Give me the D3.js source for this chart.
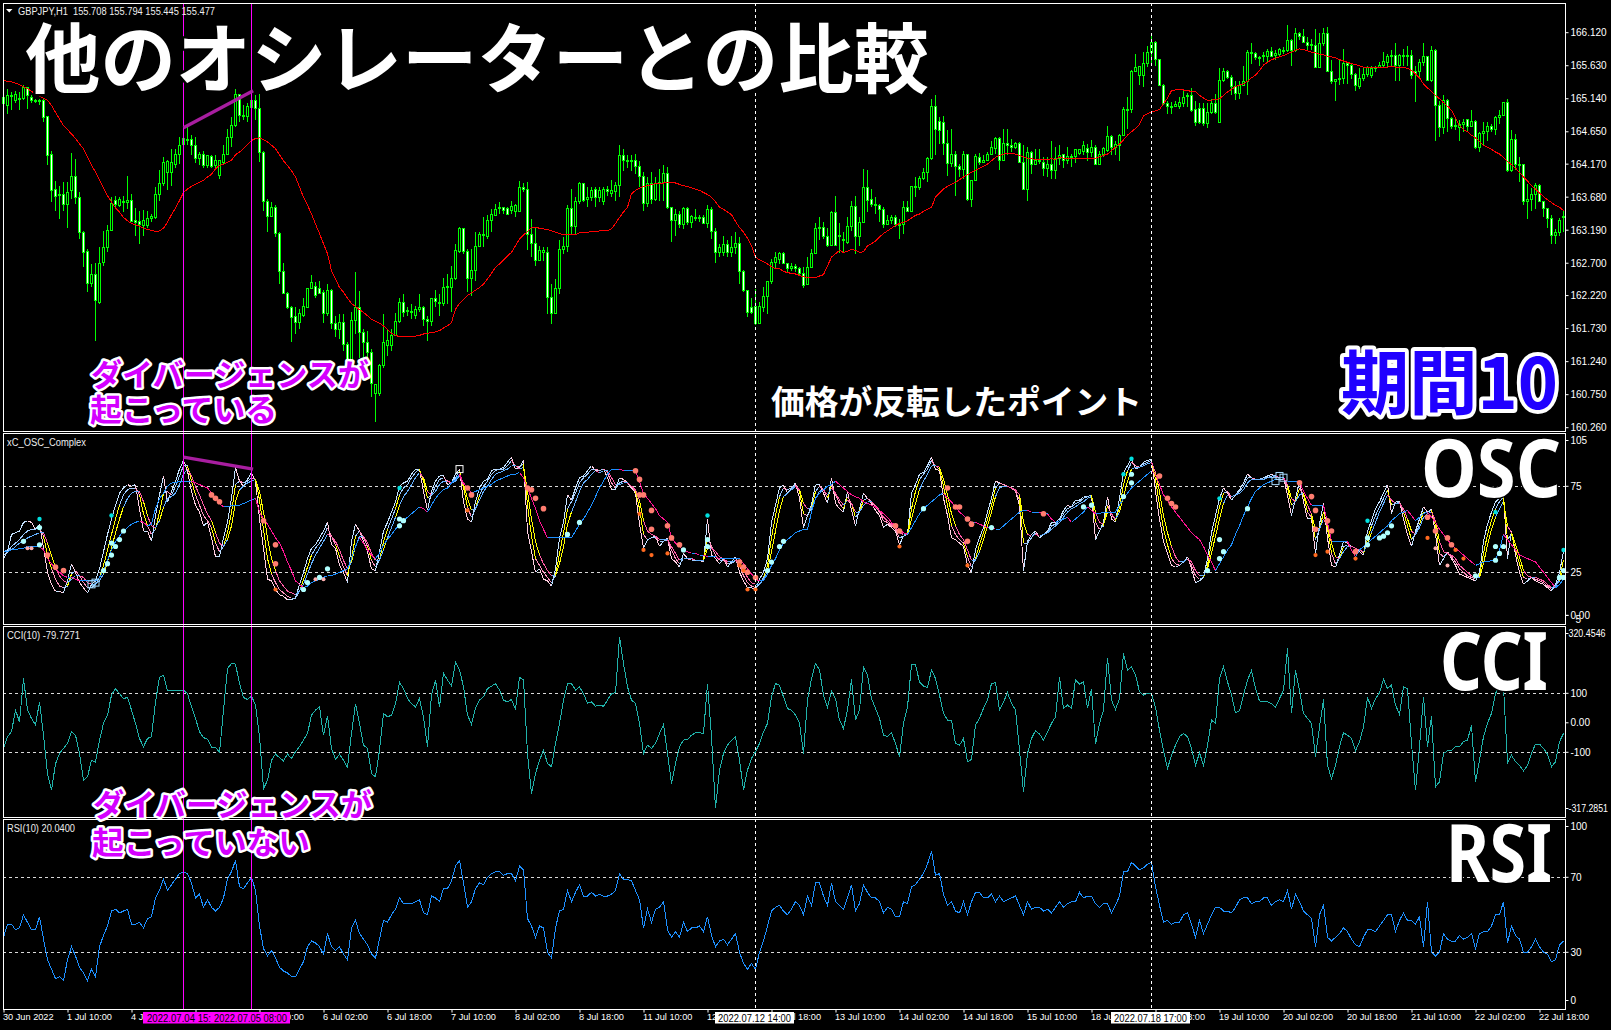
<!DOCTYPE html>
<html><head><meta charset="utf-8"><title>GBPJPY</title>
<script src="https://cdn.jsdelivr.net/npm/d3@7/dist/d3.min.js"></script>
<style>html,body{margin:0;padding:0;background:#000;overflow:hidden}svg{display:block}</style></head>
<body><svg id="c" width="1611" height="1030"></svg>
<script>
const opens=[
165.07,165.04,165.19,165.12,165.14,165.15,165.30,165.16,165.12,165.12,
165.12,164.87,164.31,163.79,163.72,163.72,163.57,163.78,163.98,163.67,
163.15,162.88,162.40,162.54,162.12,162.71,162.93,163.19,163.63,163.56,
163.60,163.60,163.63,163.33,163.32,163.26,163.26,163.37,163.38,163.72,
163.89,164.04,164.04,164.17,164.31,164.46,164.53,164.53,164.45,164.26,
164.31,164.15,164.28,164.15,164.00,164.20,164.31,164.56,164.74,165.20,
164.87,164.87,165.01,165.12,164.99,164.35,163.62,163.39,163.52,163.14,
162.57,162.25,162.05,161.91,161.82,161.92,162.05,162.33,162.35,162.33,
162.27,161.96,162.29,161.81,161.72,161.82,161.50,161.25,161.85,162.05,
161.67,161.53,161.38,160.76,160.76,161.18,161.48,161.48,161.63,161.84,
162.11,162.00,161.99,161.92,162.02,162.05,161.87,161.84,162.17,162.12,
162.10,162.34,162.34,162.48,162.88,163.21,162.88,162.47,162.59,162.95,
163.12,163.09,163.33,163.41,163.51,163.52,163.51,163.48,163.47,163.47,
163.82,163.79,163.13,162.99,162.74,162.86,162.86,162.19,161.96,162.32,
162.90,162.95,163.51,163.24,163.61,163.88,163.64,163.67,163.79,163.67,
163.61,163.79,163.73,163.77,163.85,164.30,164.23,164.21,164.22,164.14,
163.99,163.59,163.88,163.64,163.89,163.90,164.03,163.52,163.33,163.42,
163.27,163.51,163.31,163.38,163.36,163.38,163.29,163.49,163.17,162.86,
162.86,162.98,162.86,162.93,162.99,162.58,162.29,162.05,162.06,161.81,
162.05,162.20,162.43,162.71,162.75,162.84,162.70,162.62,162.65,162.62,
162.55,162.38,162.64,162.85,163.22,163.23,163.09,162.96,163.46,163.11,
163.05,163.01,163.24,163.54,163.09,163.31,163.83,163.64,163.57,163.56,
163.49,163.27,163.33,163.38,163.27,163.27,163.52,163.47,163.84,163.83,
163.95,164.05,164.25,165.02,164.81,164.79,164.47,164.18,164.31,164.13,
164.09,164.31,163.65,163.93,164.27,164.20,164.23,164.32,164.40,164.55,
164.22,164.48,164.45,164.41,164.47,164.20,163.80,164.35,164.16,164.23,
164.20,164.11,164.17,164.08,164.25,164.31,164.23,164.28,164.28,164.33,
164.36,164.40,164.35,164.42,164.16,164.32,164.37,164.58,164.41,164.45,
164.60,164.98,164.98,165.55,165.49,165.49,165.67,165.82,165.98,165.72,
165.34,165.07,165.03,165.03,165.02,165.07,165.19,165.19,164.98,164.99,
164.99,164.78,164.94,165.07,164.79,165.41,165.55,165.46,165.32,165.22,
165.34,165.40,165.82,165.81,165.75,165.76,165.76,165.84,165.78,165.80,
165.86,165.85,166.00,165.86,166.11,166.07,165.98,165.95,165.93,165.61,
165.96,166.11,165.55,165.39,165.43,165.44,165.67,165.63,165.50,165.32,
165.44,165.50,165.49,165.59,165.60,165.63,165.68,165.77,165.78,165.64,
165.78,165.78,165.78,165.54,165.54,165.68,165.76,165.41,165.86,165.04,
164.72,165.12,164.84,164.73,164.72,164.76,164.83,164.73,164.81,164.42,
164.63,164.66,164.73,164.68,164.86,164.89,165.08,164.08,164.53,164.17,
164.16,163.61,163.64,163.72,163.85,163.61,163.51,163.37,163.11,163.15,
163.39];
const highs=[
165.21,165.29,165.24,165.26,165.24,165.34,165.32,165.19,165.14,165.13,
165.13,164.89,164.37,163.92,163.84,163.90,163.90,164.34,164.24,163.75,
163.18,162.91,162.69,162.71,162.94,163.18,163.26,163.68,163.70,163.68,
163.70,163.99,163.73,163.52,163.48,163.49,163.48,163.43,163.83,164.09,
164.27,164.23,164.40,164.40,164.58,164.57,164.73,164.60,164.57,164.35,
164.37,164.31,164.30,164.30,164.23,164.45,164.69,164.87,165.29,165.21,
165.04,165.07,165.16,165.19,165.21,164.37,163.65,163.61,163.56,163.16,
162.71,162.27,162.07,162.05,162.02,162.19,162.33,162.52,162.42,162.44,
162.30,162.39,162.32,161.92,161.95,161.95,161.53,161.97,162.57,162.29,
161.72,161.70,161.43,160.91,161.20,161.95,161.72,161.72,161.96,162.19,
162.24,162.05,162.10,162.07,162.24,162.07,161.92,162.19,162.30,162.24,
162.48,162.54,162.66,162.99,163.24,163.23,162.91,162.91,163.16,163.16,
163.38,163.41,163.51,163.58,163.61,163.54,163.53,163.63,163.58,163.92,
163.89,163.90,163.36,163.23,162.96,162.94,162.94,162.39,162.47,163.04,
163.09,163.57,163.80,163.68,163.90,163.89,163.83,163.83,163.83,163.83,
163.83,163.85,163.93,163.90,164.46,164.40,164.30,164.30,164.32,164.22,
164.05,163.98,164.05,163.98,164.10,164.15,164.13,163.53,163.51,163.48,
163.53,163.53,163.41,163.51,163.41,163.41,163.56,163.54,163.22,162.99,
163.11,163.04,163.11,163.17,163.09,162.60,162.30,162.19,162.32,162.12,
162.34,162.44,162.76,162.86,162.86,162.86,162.71,162.71,162.69,162.64,
162.64,162.79,162.91,163.29,163.39,163.31,163.22,163.48,163.70,163.29,
163.16,163.38,163.63,163.69,163.38,164.10,164.08,163.80,163.68,163.58,
163.53,163.41,163.41,163.41,163.36,163.62,163.63,163.85,163.98,164.00,
164.11,164.27,165.14,165.19,164.87,164.88,164.68,164.69,164.36,164.17,
164.37,164.32,163.94,164.32,164.33,164.30,164.35,164.52,164.58,164.58,
164.69,164.69,164.55,164.50,164.50,164.45,164.42,164.37,164.40,164.40,
164.27,164.28,164.52,164.42,164.45,164.32,164.42,164.32,164.40,164.40,
164.52,164.47,164.53,164.45,164.37,164.42,164.73,164.60,164.52,164.62,
165.02,165.16,165.57,165.80,165.63,165.83,165.92,166.08,165.99,165.73,
165.36,165.10,165.09,165.11,165.17,165.26,165.22,165.30,165.11,165.08,
165.08,165.07,165.14,165.21,165.59,165.59,165.56,165.49,165.41,165.41,
165.63,165.87,165.97,165.83,165.78,165.83,165.88,165.91,165.86,165.90,
165.91,166.24,166.02,166.19,166.13,166.18,166.06,166.03,166.18,166.11,
166.19,166.20,165.72,165.44,165.72,165.88,165.68,165.66,165.52,165.59,
165.59,165.63,165.62,165.63,165.68,165.83,165.80,165.86,165.97,165.81,
165.88,165.93,165.86,165.63,165.73,165.96,165.78,165.93,165.88,165.11,
165.20,165.14,164.87,164.84,164.82,164.84,164.84,164.98,164.82,164.64,
164.79,164.79,164.77,164.89,164.97,165.09,165.14,164.67,164.61,164.27,
164.17,163.87,163.82,163.89,163.87,163.63,163.52,163.41,163.21,163.37,
163.48];
const lows=[
164.82,164.92,164.97,165.07,164.97,165.12,164.99,165.08,165.07,165.04,
164.79,164.15,163.61,163.48,163.36,163.47,163.23,163.65,163.58,163.06,
162.64,162.27,162.34,161.54,162.10,162.66,162.86,163.18,163.51,163.53,
163.46,163.51,163.31,163.11,162.99,163.11,163.23,163.31,163.36,163.63,
163.85,163.78,163.85,164.12,164.17,164.42,164.45,164.30,164.18,164.15,
164.12,164.12,164.12,164.12,163.95,164.17,164.30,164.42,164.72,164.79,
164.82,164.79,164.99,164.82,164.20,163.48,163.17,163.38,163.09,162.39,
162.24,162.02,161.53,161.65,161.72,161.90,162.05,162.32,162.19,162.24,
161.82,161.92,161.72,161.60,161.58,161.40,161.23,161.20,161.65,161.30,
161.28,161.15,160.71,160.35,160.73,161.15,161.33,161.40,161.63,161.82,
161.90,161.92,161.87,161.87,161.97,161.77,161.55,161.77,162.05,161.92,
162.07,162.10,161.97,162.45,162.85,162.84,162.27,162.22,162.44,162.96,
162.94,163.06,163.16,163.41,163.43,163.43,163.43,163.43,163.38,163.46,
163.75,162.89,162.79,162.66,162.74,162.74,161.95,161.80,161.95,162.24,
162.83,162.86,163.14,163.14,163.58,163.61,163.53,163.63,163.53,163.61,
163.56,163.70,163.68,163.63,163.68,164.07,164.12,164.07,164.03,163.83,
163.47,163.53,163.58,163.63,163.63,163.63,163.51,163.01,163.11,163.23,
163.21,163.27,163.23,163.33,163.31,163.28,163.23,163.06,162.70,162.79,
162.81,162.79,162.79,162.84,162.39,162.27,161.90,161.95,161.79,161.80,
161.97,161.95,162.39,162.62,162.69,162.69,162.57,162.59,162.57,162.52,
162.33,162.37,162.64,162.84,163.04,163.06,162.94,162.96,162.96,162.85,
162.86,162.99,163.18,162.84,162.96,163.31,163.46,163.53,163.43,163.31,
163.23,163.26,163.28,163.24,163.06,163.13,163.46,163.47,163.68,163.78,
163.93,163.90,164.23,164.30,164.47,164.30,164.00,164.13,163.70,163.98,
163.95,163.63,163.54,163.92,164.15,164.22,164.22,164.30,164.32,164.08,
164.21,164.30,164.35,164.40,164.19,163.78,163.63,164.03,164.15,164.17,
164.00,163.98,163.95,163.95,164.15,164.12,164.17,164.13,164.18,164.30,
164.30,164.21,164.27,164.15,164.15,164.27,164.35,164.30,164.30,164.22,
164.69,164.69,164.93,165.54,165.34,165.31,165.61,165.66,165.62,165.34,
165.04,164.91,164.92,165.02,164.99,165.02,165.02,164.94,164.74,164.77,
164.73,164.70,164.92,164.92,164.79,165.39,165.44,165.19,165.12,165.14,
165.39,165.19,165.66,165.71,165.63,165.68,165.68,165.76,165.71,165.78,
165.81,165.83,165.63,165.83,166.01,165.96,165.86,165.86,165.59,165.59,
165.93,165.54,165.36,165.11,165.34,165.36,165.36,165.44,165.26,165.29,
165.41,165.46,165.45,165.54,165.59,165.61,165.61,165.61,165.41,165.41,
165.63,165.63,165.44,165.09,165.44,165.63,165.41,165.39,164.52,164.57,
164.62,164.64,164.69,164.67,164.52,164.64,164.64,164.72,164.40,164.35,
164.45,164.52,164.64,164.60,164.77,164.89,164.05,164.05,164.08,163.90,
163.56,163.36,163.48,163.51,163.61,163.38,163.23,162.99,162.99,163.11,
163.16];
const closes=[
165.16,165.19,165.19,165.20,165.14,165.30,165.19,165.12,165.12,165.12,
164.86,164.30,163.78,163.69,163.70,163.57,163.75,163.98,163.67,163.15,
162.86,162.40,162.54,162.15,162.70,162.93,163.19,163.58,163.57,163.64,
163.61,163.63,163.32,163.31,163.27,163.33,163.37,163.39,163.72,163.89,
164.20,164.21,164.20,164.32,164.45,164.55,164.53,164.45,164.25,164.32,
164.15,164.30,164.14,164.22,164.22,164.31,164.57,164.74,165.20,164.89,
164.89,165.03,165.12,164.99,164.35,163.62,163.39,163.52,163.14,162.57,
162.25,162.05,161.90,161.82,161.95,162.06,162.32,162.42,162.22,162.25,
161.96,162.29,161.81,161.72,161.82,161.50,161.25,161.85,162.05,161.67,
161.53,161.38,160.91,160.90,161.18,161.53,161.55,161.63,161.84,162.11,
161.97,161.99,161.97,162.02,162.05,161.87,161.84,162.17,162.13,162.10,
162.34,162.35,162.48,162.89,163.21,162.88,162.47,162.59,162.95,163.12,
163.11,163.33,163.43,163.49,163.52,163.48,163.43,163.54,163.56,163.82,
163.79,163.13,162.99,162.74,162.89,162.89,162.19,161.96,162.32,162.90,
162.95,163.51,163.24,163.61,163.89,163.63,163.68,163.78,163.67,163.78,
163.79,163.77,163.78,163.85,164.30,164.22,164.22,164.22,164.14,163.99,
163.59,163.88,163.64,163.89,163.90,164.03,163.52,163.33,163.42,163.27,
163.51,163.31,163.39,163.36,163.38,163.29,163.49,163.17,162.86,162.93,
162.98,162.86,162.93,162.99,162.58,162.29,161.97,161.97,161.81,162.06,
162.20,162.43,162.71,162.79,162.84,162.70,162.62,162.65,162.62,162.55,
162.37,162.64,162.85,163.22,163.23,163.09,162.96,163.46,162.96,163.09,
163.03,163.24,163.54,163.09,163.31,163.83,163.63,163.57,163.56,163.49,
163.28,163.33,163.38,163.27,163.27,163.52,163.47,163.84,163.83,163.95,
164.05,164.25,165.02,164.68,164.67,164.47,164.18,164.31,164.13,164.09,
164.31,163.65,163.93,164.28,164.20,164.23,164.32,164.42,164.55,164.22,
164.48,164.45,164.41,164.47,164.20,163.80,164.35,164.17,164.23,164.22,
164.11,164.17,164.08,164.25,164.30,164.23,164.28,164.27,164.38,164.38,
164.45,164.35,164.42,164.16,164.32,164.40,164.58,164.41,164.46,164.60,
164.98,164.98,165.55,165.60,165.62,165.67,165.82,165.97,165.72,165.34,
165.07,165.03,165.01,165.05,165.09,165.16,165.19,164.97,164.79,164.79,
164.78,164.94,165.07,164.94,165.41,165.55,165.46,165.32,165.22,165.34,
165.40,165.82,165.82,165.75,165.75,165.78,165.84,165.76,165.81,165.87,
165.86,166.00,165.86,166.11,166.07,165.98,165.93,165.93,165.61,165.96,
166.11,165.55,165.39,165.43,165.44,165.67,165.63,165.50,165.34,165.44,
165.50,165.60,165.59,165.60,165.63,165.69,165.77,165.78,165.64,165.78,
165.78,165.78,165.49,165.51,165.68,165.76,165.41,165.86,165.04,164.72,
165.12,164.84,164.73,164.74,164.76,164.79,164.73,164.81,164.42,164.63,
164.66,164.73,164.68,164.86,164.89,165.08,164.08,164.53,164.17,164.16,
163.61,163.64,163.72,163.85,163.61,163.51,163.37,163.11,163.15,163.33,
163.39];
const maLine=[
165.41,165.40,165.39,165.37,165.35,165.32,165.29,165.25,165.21,165.18,
165.15,165.12,165.04,164.94,164.84,164.74,164.68,164.62,164.55,164.47,
164.40,164.28,164.16,164.05,163.93,163.82,163.70,163.61,163.52,163.46,
163.38,163.33,163.29,163.27,163.25,163.22,163.20,163.19,163.17,163.18,
163.22,163.31,163.42,163.52,163.63,163.75,163.80,163.84,163.87,163.90,
163.93,163.98,164.02,164.10,164.15,164.17,164.20,164.23,164.31,164.35,
164.40,164.46,164.52,164.55,164.56,164.53,164.50,164.45,164.40,164.31,
164.22,164.15,164.07,163.98,163.83,163.68,163.56,163.43,163.28,163.14,
162.99,162.84,162.59,162.47,162.34,162.27,162.18,162.10,162.06,162.01,
161.97,161.92,161.87,161.84,161.81,161.77,161.72,161.66,161.63,161.61,
161.61,161.61,161.61,161.62,161.63,161.65,161.66,161.67,161.68,161.70,
161.74,161.77,161.82,162.02,162.10,162.16,162.22,162.26,162.30,162.34,
162.39,162.47,162.55,162.64,162.69,162.75,162.81,162.86,162.96,163.06,
163.12,163.17,163.23,163.23,163.22,163.21,163.20,163.18,163.16,163.14,
163.12,163.12,163.12,163.12,163.15,163.16,163.16,163.17,163.17,163.18,
163.18,163.18,163.21,163.29,163.38,163.46,163.53,163.73,163.78,163.81,
163.84,163.85,163.87,163.88,163.89,163.89,163.90,163.90,163.89,163.87,
163.85,163.84,163.82,163.80,163.78,163.75,163.72,163.68,163.61,163.53,
163.50,163.46,163.42,163.32,163.23,163.16,163.07,162.96,162.79,162.75,
162.72,162.69,162.65,162.62,162.62,162.58,162.56,162.55,162.54,162.52,
162.50,162.49,162.49,162.49,162.51,162.53,162.66,162.79,162.84,162.89,
162.86,162.88,162.91,162.89,162.86,162.87,162.96,162.99,163.03,163.09,
163.14,163.18,163.22,163.26,163.29,163.31,163.33,163.37,163.41,163.43,
163.47,163.50,163.53,163.68,163.74,163.80,163.84,163.87,163.90,163.94,
163.98,164.01,164.05,164.08,164.11,164.14,164.17,164.22,164.27,164.30,
164.32,164.33,164.33,164.32,164.30,164.28,164.26,164.25,164.24,164.24,
164.24,164.24,164.25,164.24,164.27,164.26,164.26,164.25,164.25,164.25,
164.25,164.25,164.25,164.26,164.28,164.30,164.32,164.37,164.42,164.47,
164.53,164.60,164.65,164.70,164.76,164.89,164.92,164.94,164.96,164.98,
165.07,165.15,165.26,165.27,165.28,165.27,165.26,165.25,165.25,165.19,
165.15,165.12,165.12,165.13,165.14,165.19,165.24,165.28,165.32,165.34,
165.36,165.40,165.45,165.49,165.56,165.64,165.68,165.72,165.74,165.76,
165.78,165.81,165.83,165.86,165.88,165.87,165.85,165.83,165.82,165.80,
165.79,165.77,165.76,165.75,165.72,165.70,165.68,165.66,165.65,165.63,
165.61,165.61,165.60,165.60,165.60,165.61,165.61,165.62,165.61,165.61,
165.61,165.59,165.56,165.51,165.45,165.36,165.30,165.25,165.19,165.14,
165.08,165.03,164.97,164.85,164.74,164.68,164.65,164.60,164.56,164.51,
164.45,164.42,164.39,164.35,164.32,164.27,164.21,164.16,164.11,164.05,
163.98,163.92,163.85,163.80,163.74,163.69,163.64,163.60,163.56,163.53,
163.48];
const oscF=[
33,37,47,48,49,54,55,54,50,53,39,25,18,14,14,13,20,30,25,19,
16,13,18,20,27,37,47,56,64,71,74,76,75,76,62,49,49,43,58,70,
81,66,72,78,85,90,84,72,64,60,52,54,45,34,34,45,54,68,86,78,
75,79,83,78,56,39,21,20,15,12,11,9,9,10,18,25,33,39,41,45,
49,54,41,39,29,25,19,43,53,49,43,37,27,26,37,49,54,60,66,75,
77,78,82,85,85,72,61,72,78,81,81,76,77,82,85,66,56,54,66,74,
78,79,84,85,85,86,89,92,85,86,90,49,37,25,27,21,20,17,27,45,
54,70,67,74,80,81,84,87,84,84,85,80,73,73,80,79,77,74,71,53,
39,44,45,46,40,43,45,33,31,28,36,33,32,32,32,31,56,35,33,30,
33,28,31,34,25,20,16,16,15,21,25,33,54,64,74,76,71,74,77,68,
51,58,64,76,76,71,65,80,65,62,60,72,61,52,62,71,68,65,61,58,
51,53,51,49,41,46,47,71,76,82,83,87,92,85,84,68,58,45,44,42,
40,29,25,38,45,51,60,68,78,77,76,75,74,72,64,26,43,47,49,45,
47,49,54,54,56,61,64,63,67,67,69,69,70,44,49,54,69,56,54,68,
83,87,91,85,86,89,90,91,72,56,43,36,29,28,29,31,34,27,19,20,
22,33,48,58,68,74,71,67,70,73,77,82,80,79,79,80,81,82,81,80,
80,70,58,68,78,66,56,56,36,53,65,45,29,28,35,43,42,40,39,37,
35,49,55,62,66,71,76,59,66,66,56,47,40,49,56,63,60,62,47,29,
33,37,33,29,24,23,22,21,20,25,43,53,60,66,68,70,33,49,35,25,
18,20,22,20,19,18,16,14,18,25,37];
const oscM1=[
35,37,40,42,44,47,49,50,50,51,46,35,27,21,17,16,17,24,26,23,
19,16,16,18,22,29,38,47,56,64,70,73,74,74,70,59,52,47,50,60,
71,72,70,75,81,87,87,78,70,64,58,55,51,42,37,40,48,60,76,78,
77,78,80,79,67,50,33,24,19,15,13,11,10,10,14,21,28,35,39,42,
46,51,46,41,34,28,23,33,46,49,45,40,32,28,32,43,50,56,62,70,
74,76,80,83,85,78,68,70,75,79,80,78,77,80,84,74,63,57,62,70,
75,78,82,84,85,85,87,90,87,86,88,64,46,33,29,25,22,19,23,36,
48,62,66,71,77,80,82,85,85,84,85,83,77,74,77,78,77,75,72,62,
47,44,45,45,43,43,44,38,33,30,33,33,32,32,32,32,45,40,35,32,
32,30,30,32,29,23,19,17,16,18,22,29,45,58,69,74,73,74,76,72,
59,58,62,72,75,73,68,76,70,65,62,69,65,57,60,67,68,66,63,60,
55,54,52,50,45,46,47,62,72,79,82,85,90,87,85,75,64,52,47,44,
42,34,28,33,41,48,56,64,74,77,76,75,74,72,67,42,42,45,48,46,
47,48,52,53,55,59,62,63,65,66,68,69,70,54,50,52,64,59,55,63,
76,84,89,87,86,88,89,90,79,64,50,41,33,30,29,31,33,29,23,21,
22,29,42,52,63,71,72,69,70,72,75,80,80,79,79,80,80,81,81,80,
80,74,64,66,74,70,60,57,44,50,60,50,36,30,33,40,41,40,39,38,
36,44,52,58,63,68,73,64,65,66,60,52,44,47,53,60,60,61,52,36,
34,36,34,31,27,25,23,22,21,23,36,47,55,62,66,69,44,47,38,30,
22,21,22,21,20,19,17,15,17,22,32];
const oscM2=[
37,38,38,40,42,43,45,46,47,48,48,42,35,28,23,20,19,21,23,23,
22,19,18,18,20,24,31,39,48,56,63,68,71,72,72,66,58,52,51,55,
63,68,69,71,76,82,85,81,75,70,64,59,55,48,42,40,44,52,66,73,
75,77,78,79,72,60,45,33,26,20,17,14,13,12,14,18,24,30,35,39,
43,47,46,43,38,32,27,31,40,46,46,42,36,32,32,38,45,51,57,64,
69,72,76,80,83,80,72,70,72,76,78,78,77,78,81,76,68,61,62,67,
72,75,79,82,83,84,85,87,87,85,86,72,56,43,35,30,26,23,23,30,
40,53,60,66,72,77,79,82,84,83,84,84,80,76,76,77,77,75,73,67,
55,49,47,46,44,44,44,40,36,32,33,33,33,32,32,32,39,39,37,34,
33,31,31,32,30,26,22,19,18,18,21,26,37,49,61,69,71,73,75,73,
65,62,62,68,72,73,70,74,71,67,64,67,65,60,60,64,66,66,64,61,
57,55,53,51,48,47,47,56,65,73,78,82,87,87,86,79,70,59,52,47,
44,38,32,32,37,44,52,60,69,74,75,75,74,73,70,54,47,46,47,46,
47,48,50,52,54,57,60,62,63,65,66,68,69,60,54,53,60,59,56,60,
69,78,85,86,86,87,88,89,83,72,58,48,40,34,31,31,33,31,26,23,
23,27,36,46,56,65,70,69,70,71,73,77,79,79,79,79,80,80,81,80,
80,76,68,66,70,71,64,59,50,50,56,52,42,34,33,37,40,40,39,38,
37,41,48,54,60,65,70,67,65,65,62,56,49,47,51,57,59,60,55,43,
37,36,35,33,29,27,25,23,22,22,30,41,50,57,62,66,52,48,41,34,
26,23,22,22,21,20,18,16,17,20,27];
const oscS=[
37,37,38,38,39,39,40,40,40,40,38,33,30,27,25,23,22,22,21,20,
20,20,20,20,22,26,32,38,43,46,49,51,53,54,55,54,52,53,62,68,
71,75,77,77,78,78,78,78,77,76,75,74,71,68,65,63,63,64,64,64,
65,66,67,68,60,56,53,49,45,42,37,31,26,20,18,16,17,19,20,21,
22,23,23,24,25,26,27,33,40,45,42,38,35,33,36,41,44,47,50,53,
55,57,59,61,63,62,60,64,68,71,73,74,77,79,82,77,74,71,72,73,
74,75,76,78,79,80,81,82,82,83,80,74,68,62,55,50,45,45,45,45,
45,45,45,49,53,56,60,64,69,74,78,82,85,85,85,84,84,84,84,78,
71,68,65,62,58,56,54,45,42,40,38,37,36,36,35,35,34,34,34,33,
33,33,33,33,33,30,27,24,21,20,20,24,29,33,38,42,44,46,48,49,
50,50,60,68,71,73,75,76,78,76,74,72,70,69,68,66,65,64,63,61,
59,57,54,52,50,48,47,51,55,59,62,64,66,68,70,71,68,66,63,60,
58,56,54,54,53,52,51,51,50,50,52,54,56,58,60,61,61,60,60,60,
59,59,56,54,55,56,57,54,56,58,60,63,61,59,59,60,60,60,60,64,
68,71,74,76,78,80,82,84,82,76,70,67,63,60,57,54,51,48,46,44,
40,35,31,26,30,34,38,41,47,52,58,63,68,72,74,76,77,78,79,79,
79,78,78,78,78,72,68,64,64,64,64,54,43,43,43,43,43,38,34,38,
40,42,44,46,48,50,52,55,57,59,60,61,58,55,57,59,60,57,54,50,
47,44,41,39,37,35,33,31,29,30,31,31,32,32,38,47,44,41,38,35,
34,33,32,31,28,25,22,19,16,18,21];
const dotsBar=[9,27,99,176,280,282,304,341,373,390, 5,9,9,27,28,30,29,27,26,25,75,76,79,81,99,100,99,141,144,170,176,176,191,192,194,195,230,247,270,272,280,282,282,301,304,304,305,311,341,341,344,345,346,347,368,373,374,375,373,389,390,390,
11,13,15,52,53,54,68,65,68,116,117,131,132,133,135,158,159,160,159,162,162,166,167,169,184,185,186,188,223,224,236,238,239,241,242,241,260,289,291,292,293,324,327,328,331,328,332,338,356,358,361,362,363,365,
68,116,160,162,166,186,188,224,241,159,184,185,328,331,338,356,358,361, 6,7,78,80,283,306];
const dotsVal=[56,58,74,58,82,91,68,55,60,38, 43,51,41,42,40,49,44,35,30,26,15,19,22,27,56,55,52,47,54,38,44,40,26,31,40,43,62,51,63,64,69,77,82,26,44,33,37,62,45,41,45,46,48,52,23,32,36,40,40,22,22,26,
35,28,26,70,68,66,41,55,30,74,70,74,73,68,62,84,79,70,70,61,50,52,45,41,31,28,25,22,52,49,74,63,63,56,53,43,59,81,68,65,63,77,69,61,55,50,49,37,57,49,45,41,38,33,
15,61,38,35,36,15,15,40,29,59,29,26,35,37,33,45,39,29, 39,39,21,21,79,40];
const dotsKind=["c","c","c","c","c","c","c","c","c","c"].concat(Array(52).fill("p"),Array(52).fill("s"),Array(18).fill("o"),Array(6).fill("k"));
const squaresBar=[22,23,114,318,319,320];
const squaresVal=[18,19,85,78,81,80];
const cciLine=[
-87,-47,-30,43,3,150,43,15,-8,71,-42,-172,-228,-139,-104,-87,-70,-31,-42,-104,
-195,-183,-127,-133,-59,-2,26,94,116,99,82,86,43,-2,-53,-81,-53,-47,71,155,
161,108,108,108,111,111,99,54,15,-31,-50,-56,-83,-83,-101,43,184,201,199,133,
86,79,90,60,-47,-223,-195,-127,-106,-118,-129,-106,-121,-98,-81,-59,-36,26,43,54,
-42,23,-87,-124,-106,-127,-151,-36,65,-2,-76,-87,-172,-183,-93,32,20,26,65,137,
116,82,65,54,82,20,-81,94,145,54,168,145,125,205,179,122,26,-5,49,77,
88,116,124,133,111,77,71,79,45,154,145,-104,-241,-172,-127,-93,-138,-149,-70,-2,
77,133,133,111,122,99,66,71,56,60,56,77,99,102,291,201,122,77,66,-2,
-104,-76,-87,-70,-36,-6,-104,-206,-138,-81,-59,-56,-42,-34,-34,-36,133,-47,-290,-160,
-104,-76,-59,-47,-127,-228,-160,-121,-98,-70,-31,-2,88,133,127,88,48,43,26,-2,
-104,77,150,201,179,94,52,109,82,9,-19,43,147,9,43,190,161,82,48,15,
-42,-47,-34,-70,-116,-2,54,196,196,139,124,120,179,150,94,32,9,9,-70,-76,
-53,-132,-124,-8,15,49,77,133,136,43,71,102,66,43,-93,-234,-104,-53,-27,-38,
-59,-31,-2,20,154,49,60,49,145,131,139,49,116,-73,-2,43,221,77,45,82,
235,179,190,162,105,94,99,99,52,-25,-93,-155,-110,-76,-47,-36,-47,-87,-144,-102,
-144,-76,9,-2,150,190,139,94,34,41,94,145,177,116,74,71,71,65,52,82,
110,252,32,179,110,32,15,-2,-115,-14,79,-144,-189,-144,-81,-34,-42,-53,-95,-64,
-14,86,49,82,102,147,116,128,60,29,122,116,-70,-229,-81,88,-81,23,-217,-200,
-104,-95,-93,-81,-81,-64,-59,-8,-200,-127,-47,-2,32,99,127,122,-135,-110,-132,-144,
-163,-144,-104,-72,-72,-87,-106,-149,-132,-64,-36];
const rsiLine=[
38,45,45,42,43,50,46,42,42,49,37,26,21,16,17,15,26,33,28,22,
19,15,21,17,33,39,44,52,53,51,52,53,45,45,46,43,48,49,59,63,
69,63,66,69,72,73,72,67,59,61,54,58,54,52,54,59,69,73,79,65,
64,67,70,63,44,32,28,31,27,22,20,19,17,17,21,25,33,36,35,33,
29,40,33,31,33,29,26,43,47,40,37,34,29,27,37,47,46,50,53,59,
56,56,56,57,58,51,50,60,59,57,64,64,68,76,79,67,54,57,64,67,
66,70,72,73,73,71,72,72,68,76,74,48,44,38,44,43,30,27,43,52,
53,63,57,62,66,60,60,62,60,61,60,60,61,63,72,69,69,68,63,58,
43,53,46,53,54,57,42,38,41,38,46,41,43,43,44,41,49,39,33,36,
37,34,37,40,30,24,21,24,21,30,36,44,52,54,55,52,50,53,57,55,
50,60,55,67,67,60,55,67,57,55,53,59,66,52,56,66,62,59,59,57,
51,54,53,49,49,57,56,65,66,69,72,77,84,71,72,61,55,57,52,51,
57,50,57,62,62,59,59,61,57,60,57,58,59,60,55,50,57,53,54,54,
52,53,51,54,57,54,56,57,57,62,59,60,60,56,54,56,56,51,55,60,
73,73,78,76,74,75,77,78,65,55,46,47,45,46,46,50,51,45,38,47,
40,45,50,54,54,52,52,51,54,58,59,59,56,57,57,59,59,55,57,58,
57,63,53,61,57,52,50,48,33,50,55,38,36,38,40,43,41,37,34,33,
38,42,42,41,44,47,50,50,41,47,51,47,47,45,49,33,57,30,28,30,
40,37,36,36,39,37,38,40,32,40,41,41,44,50,50,57,35,44,39,37,
30,30,33,37,33,30,29,25,26,34,36];
const yTicksMain=[166.12,165.63,165.14,164.65,164.17,163.68,163.19,162.7,162.22,161.73,161.24,160.75,160.26];
const oscTicks=[105,75,25,0,-5];
const oscTickText=["105","75","25","0.00","5"];
const cciTicks=[320.4546,100,0,-100,-317.2851];
const cciTickText=["320.4546","100","0.00","-100","-317.2851"];
const rsiTicks=[100,70,30,0];
const xTickBars=[0,16,32,48,64,80,96,112,128,144,160,176,192,208,224,240,256,272,288,304,320,336,352,368,384];
const xTickText=["30 Jun 2022","1 Jul 10:00","4 Jul 02:00","4 Jul 18:00","5 Jul 10:00","6 Jul 02:00","6 Jul 18:00","7 Jul 10:00","8 Jul 02:00","8 Jul 18:00","11 Jul 10:00","12 Jul 02:00","12 Jul 18:00","13 Jul 10:00","14 Jul 02:00","14 Jul 18:00","15 Jul 10:00","18 Jul 02:00","18 Jul 18:00","19 Jul 10:00","20 Jul 02:00","20 Jul 18:00","21 Jul 10:00","22 Jul 02:00","22 Jul 18:00"];
const magentaBars=[45,62];
const whiteBars=[188,287];

const svg=d3.select("#c");
const SMALL="'Liberation Sans',Arial,sans-serif", JP="'Noto Sans CJK JP','Noto Sans',sans-serif";
svg.append("rect").attr("width",1611).attr("height",1030).attr("fill","#000");
const x=d3.scaleLinear().domain([0,390]).range([3.5,1563.5]);
const panels={main:[3,431.5],osc:[433.5,624.5],cci:[626.5,817.5],rsi:[819.5,1009.5]};
const yMain=d3.scaleLinear().domain([166.12,160.26]).range([32.7,427.7]);
const yOsc=d3.scaleLinear().domain([75,25]).range([486.3,572.3]);
const yCci=d3.scaleLinear().domain([100,-100]).range([693.3,752.3]);
const yRsi=d3.scaleLinear().domain([70,30]).range([877.3,952.3]);
const dash=(g,y,vals)=>g.selectAll(null).data(vals).join("line").attr("x1",3).attr("x2",1565).attr("y1",d=>y(d)).attr("y2",d=>y(d)).attr("stroke","#d8d8d8").attr("stroke-width",1).attr("stroke-dasharray","3,3").attr("shape-rendering","crispEdges");
const gLevels=svg.append("g");
dash(gLevels,yOsc,[75,25]);dash(gLevels,yCci,[100,-100]);dash(gLevels,yRsi,[70,30]);

// candles
const bars=d3.range(closes.length);
const gC=svg.append("g").attr("shape-rendering","crispEdges");
gC.selectAll("line").data(bars).join("line").attr("x1",i=>x(i)).attr("x2",i=>x(i))
 .attr("y1",i=>yMain(Math.max(highs[i],opens[i],closes[i]))).attr("y2",i=>yMain(Math.min(lows[i],opens[i],closes[i])))
 .attr("stroke","#00ff00");
gC.selectAll("rect").data(bars).join("rect").attr("x",i=>x(i)-1).attr("width",2)
 .attr("y",i=>yMain(Math.max(opens[i],closes[i]))).attr("height",i=>Math.max(1,Math.abs(yMain(opens[i])-yMain(closes[i]))))
 .attr("fill",i=>closes[i]<opens[i]?"#fff":"#000").attr("stroke","#00ff00");
const line=(y)=>d3.line().x((d,i)=>x(i)).y(d=>y(d));
svg.append("path").attr("d",line(yMain)(maLine)).attr("fill","none").attr("stroke","#ff0000").attr("stroke-width",1).attr("shape-rendering","crispEdges");

// oscillator, fastest line underneath and slowest on top
const oscSeries=[
 {v:oscF,up:"#c4e2ff",dn:"#ffd0e2",steep:null},
 {v:oscM1,up:"#9ccbff",dn:"#ff92bf",steep:"#ffff00"},
 {v:oscM2,up:"#63b0ff",dn:"#ff5aa5",steep:"#ffff00"},
 {v:oscS,up:"#1e90ff",dn:"#ff1493",steep:null}];
oscSeries.forEach(s=>{
 const g=svg.append("g").attr("shape-rendering","crispEdges");
 g.selectAll("line").data(s.v.slice(1)).join("line")
  .attr("x1",(d,i)=>x(i)).attr("x2",(d,i)=>x(i+1)).attr("y1",(d,i)=>yOsc(s.v[i])).attr("y2",d=>yOsc(d))
  .attr("stroke",(d,i)=>{const r=d-s.v[i];return s.steep&&Math.abs(r)>=7?s.steep:(r>=0?s.up:s.dn);}).attr("stroke-width",1);
});
const dotColor={c:"#00e0e0",p:"#b0ffff",s:"#ff7d70",o:"#ff6a20",k:"#ffb0b0"};
const dotR={c:2.2,p:2.6,s:2.8,o:2.1,k:2};
svg.append("g").selectAll("circle").data(dotsBar).join("circle").attr("cx",d=>x(d)).attr("cy",(d,i)=>yOsc(dotsVal[i]))
 .attr("r",(d,i)=>dotR[dotsKind[i]]).attr("fill",(d,i)=>dotColor[dotsKind[i]]);
svg.append("g").selectAll("rect").data(squaresBar).join("rect").attr("x",d=>x(d)-3.5).attr("y",(d,i)=>yOsc(squaresVal[i])-3.5)
 .attr("width",7).attr("height",7).attr("fill","none").attr("stroke",(d,i)=>i==2?"#fff":"#a8dcff").attr("stroke-width",1);

svg.append("path").attr("d",line(yCci)(cciLine)).attr("fill","none").attr("stroke","#20b2aa").attr("stroke-width",1).attr("shape-rendering","crispEdges");
svg.append("path").attr("d",line(yRsi)(rsiLine)).attr("fill","none").attr("stroke","#1e90ff").attr("stroke-width",1).attr("shape-rendering","crispEdges");

// vertical markers
const gV=svg.append("g").attr("shape-rendering","crispEdges");
gV.selectAll("line.m").data(magentaBars).join("line").attr("class","m").attr("x1",d=>x(d)).attr("x2",d=>x(d)).attr("y1",3).attr("y2",1009).attr("stroke","#ff00ff");
gV.selectAll("line.w").data(whiteBars).join("line").attr("class","w").attr("x1",d=>x(d)).attr("x2",d=>x(d)).attr("y1",3).attr("y2",1009).attr("stroke","#fff").attr("stroke-dasharray","3,3");

// divergence trend lines
svg.append("line").attr("x1",x(45)).attr("x2",x(62.4)).attr("y1",yMain(164.71)).attr("y2",yMain(165.26)).attr("stroke","#a81ea0").attr("stroke-width",3.4);
svg.append("line").attr("x1",x(45)).attr("x2",x(62.4)).attr("y1",yOsc(92)).attr("y2",yOsc(85)).attr("stroke","#a81ea0").attr("stroke-width",3.4);

// frames
const gF=svg.append("g").attr("fill","none").attr("stroke","#fff").attr("shape-rendering","crispEdges");
Object.values(panels).forEach(p=>gF.append("rect").attr("x",3).attr("y",p[0]).attr("width",1562).attr("height",p[1]-p[0]));

// axes
function rightAxis(y,vals,txt,panel){
 const g=svg.append("g").attr("transform","translate(1565.5,0)").call(d3.axisRight(y).tickValues(vals).tickSize(3).tickFormat((d,i)=>txt(d,i)));
 g.select(".domain").remove();
 g.selectAll("line").attr("stroke","#fff");
 g.selectAll("text").attr("fill","#fff").attr("font-family",SMALL).attr("font-size",10).attr("x",5).attr("dy","0.34em");
 g.selectAll(".tick").attr("transform",function(d){const v=Math.min(panel[1]-9,Math.max(panel[0]+7,y(d)));return `translate(0,${v})`;});
 return g;
}
rightAxis(yMain,yTicksMain,d=>d.toFixed(3),[0,1030]);
const ao=rightAxis(yOsc,oscTicks,(d,i)=>oscTickText[i],panels.osc);
ao.selectAll("text").filter(d=>d===-5).attr("x",10).attr("dy","0.75em");
const ac=rightAxis(yCci,cciTicks,(d,i)=>cciTickText[i],panels.cci);
ac.selectAll("text").filter(d=>Math.abs(d)>300).attr("x",3).attr("textLength",d=>d>0?37:39.5).attr("lengthAdjust","spacingAndGlyphs");
rightAxis(yRsi,rsiTicks,d=>String(d),panels.rsi);
const ax=svg.append("g").attr("transform","translate(0,1009.5)").call(d3.axisBottom(x).tickValues(xTickBars).tickSize(3).tickFormat((d,i)=>xTickText[i]));
ax.select(".domain").remove();
ax.selectAll("line").attr("stroke","#fff");
ax.selectAll("text").attr("fill","#fff").attr("font-family",SMALL).attr("font-size",9.2).attr("text-anchor","start").attr("x",-1).attr("y",4).attr("dy","0.75em");

// highlighted time labels
function tag(x0,w,fill,parts){
 svg.append("rect").attr("x",x0).attr("y",1012).attr("width",w).attr("height",11.5).attr("fill",fill);
 parts.forEach(p=>svg.append("text").attr("x",p[0]).attr("y",1021.5).attr("fill","#000").attr("font-family",SMALL).attr("font-size",10).attr("textLength",p[2]).attr("lengthAdjust","spacingAndGlyphs").text(p[1]));
}
tag(143,147,"#ff00ff",[[147,"2022.07.04 15:",64],[214,"2022.07.05 08:00",73]]);
tag(715,79,"#fff",[[718,"2022.07.12 14:00",73]]);
tag(1111,79,"#fff",[[1114,"2022.07.18 17:00",73]]);

// small labels
const small=(xx,yy,t,len)=>svg.append("text").attr("x",xx).attr("y",yy).attr("fill","#eee").attr("font-family",SMALL).attr("font-size",10).attr("textLength",len).attr("lengthAdjust","spacingAndGlyphs").text(t);
svg.append("path").attr("d","M6,9 L12.5,9 L9.2,12.5 Z").attr("fill","#fff");
small(18,14.5,"GBPJPY,H1\u00a0\u00a0155.708 155.794 155.445 155.477",197);
small(7,446,"xC_OSC_Complex",79);
small(7,639,"CCI(10) -79.7271",73);
small(7,832,"RSI(10) 20.0400",68);

// overlays
function big(t,xx,yy,size,fill,stroke,sw,len,fam,weight){
 const e=svg.append("text").attr("x",xx).attr("y",yy).attr("font-size",size).attr("font-family",fam||JP).attr("font-weight",weight||700)
  .attr("fill",fill).attr("stroke",stroke).attr("stroke-width",sw).attr("stroke-linejoin","round").attr("paint-order","stroke").text(t);
 if(len) e.attr("textLength",len).attr("lengthAdjust","spacingAndGlyphs");
 return e;
}
big("他のオシレーターとの比較",25,87,76,"#fff","#000",5,904);
big("ダイバージェンスが",91,386,31,"#d400ff","#fff",5,278);
big("起こっている",90,421,31,"#d400ff","#fff",5,187);
big("ダイバージェンスが",93,816,31,"#d400ff","#fff",5,279);
big("起こっていない",92,854,31,"#d400ff","#fff",5,218);
big("価格が反転したポイント",771,414,33,"#fff","#000",3,371,JP,700);
big("期間10",1341,409,70,"#2000ff","#fff",8,217);
big("OSC",1421,497,80,"#fff","#000",3,140,"'Noto Sans',sans-serif",700);
big("CCI",1440,690,80,"#fff","#000",3,108,"'Noto Sans',sans-serif",700);
big("RSI",1446,882,80,"#fff","#000",3,106,"'Noto Sans',sans-serif",700);
</script></body></html>
